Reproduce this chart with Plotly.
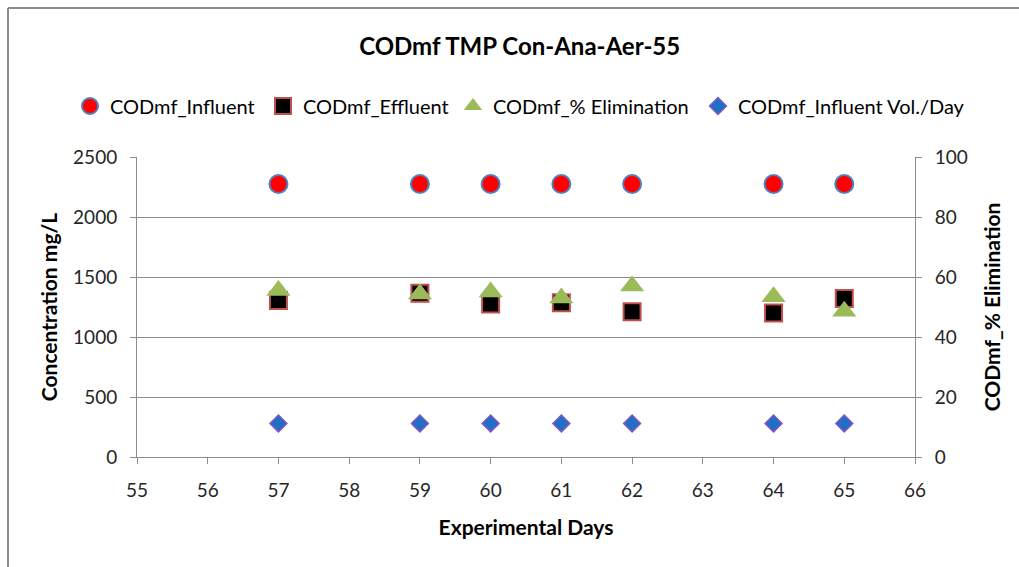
import plotly.graph_objects as go

# Experimental days sampled
days = [57, 59, 60, 61, 62, 64, 65]

# COD (mf) concentrations, mg/L
influent = [2275, 2275, 2275, 2275, 2275, 2275, 2275]
effluent = [1305, 1365, 1275, 1285, 1210, 1200, 1320]
# Removal efficiency, %
elimination = [55.5, 54.3, 55.0, 53.0, 57.0, 53.4, 48.6]
# Influent volume per day
influent_vol = [280, 280, 280, 280, 280, 280, 280]

FONT = "Lato"
GRID = "#8c8c8c"

# plot area in pixels (used to place the paper-anchored items)
L, R, T, B = 137, 104, 157, 110
PW, PH = 1019 - L - R, 567 - T - B


def px_x(x):
    return (x - L) / PW


def px_y(y):
    return (567 - B - y) / PH


fig = go.Figure()

fig.add_trace(go.Scatter(
    x=days, y=influent, mode="markers", name="CODmf_Influent",
    legend="legend",
    marker=dict(symbol="circle", size=18, color="#ff0000",
                line=dict(color="#4f81bd", width=2)),
))
fig.add_trace(go.Scatter(
    x=days, y=effluent, mode="markers", name="CODmf_Effluent",
    legend="legend2",
    marker=dict(symbol="square", size=17, color="#000000",
                line=dict(color="#c0504d", width=2)),
))
fig.add_trace(go.Scatter(
    x=days, y=elimination, mode="markers", name="CODmf_% Elimination",
    yaxis="y2", legend="legend3",
    marker=dict(symbol="triangle-up", size=21, color="#9bbb59",
                line=dict(color="#9bbb59", width=0)),
))
fig.add_trace(go.Scatter(
    x=days, y=influent_vol, mode="markers", name="CODmf_Influent Vol./Day",
    legend="legend4",
    marker=dict(symbol="diamond", size=13, color="#1f6fc5",
                line=dict(color="#7e57c2", width=1.5)),
))

legend_font = dict(family=FONT, size=20, color="#000000")
legend_y = px_y(106)


def legend_at(xpix):
    return dict(x=px_x(xpix), xanchor="left", y=legend_y, yanchor="middle",
                orientation="h", font=legend_font, itemwidth=30,
                bgcolor="rgba(0,0,0,0)")


tick_font = dict(family=FONT, size=19, color="#262626")
title_font = dict(family=FONT, size=21, color="#000000")

fig.update_layout(
    width=1019, height=567,
    margin=dict(l=L, r=R, t=T, b=B),
    paper_bgcolor="white", plot_bgcolor="white",
    font=dict(family=FONT, size=18, color="#262626"),
    title=dict(text="<b>CODmf TMP Con-Ana-Aer-55</b>",
               x=0.51, xanchor="center", y=1 - 47 / 567, yanchor="middle",
               font=dict(family=FONT, size=24, color="#000000")),
    showlegend=True,
    legend=legend_at(70),
    legend2=legend_at(263),
    legend3=legend_at(453),
    legend4=legend_at(698),
    xaxis=dict(
        range=[55, 66], tick0=55, dtick=1,
        showgrid=False, zeroline=False,
        showline=True, linecolor=GRID, linewidth=1,
        ticks="outside", ticklen=6, tickcolor=GRID,
        ticklabelstandoff=10,
        tickfont=tick_font,
        title=dict(text="<b>Experimental Days</b>", standoff=20,
                   font=title_font),
    ),
    yaxis=dict(
        range=[0, 2500], tick0=0, dtick=500,
        showgrid=True, gridcolor=GRID, gridwidth=1,
        zeroline=False,
        showline=True, linecolor=GRID, linewidth=1,
        ticks="outside", ticklen=6, tickcolor=GRID,
        ticklabelstandoff=9,
        tickfont=tick_font,
        title=dict(text="<b>Concentration mg/L</b>", standoff=9,
                   font=title_font),
    ),
    yaxis2=dict(
        range=[0, 100], tick0=0, dtick=20,
        overlaying="y", side="right",
        showgrid=False, zeroline=False,
        showline=True, linecolor=GRID, linewidth=1,
        ticks="outside", ticklen=6, tickcolor=GRID,
        ticklabelstandoff=9,
        tickfont=tick_font,
        title=dict(text="<b>CODmf_% Elimination</b>", standoff=18,
                   font=title_font),
    ),
    shapes=[
        # outer chart frame (left and top edges)
        dict(type="line", xref="paper", yref="paper",
             x0=px_x(8), x1=px_x(8), y0=px_y(8), y1=px_y(567),
             line=dict(color="#8c8c8c", width=2)),
        dict(type="line", xref="paper", yref="paper",
             x0=px_x(8), x1=px_x(1019), y0=px_y(8), y1=px_y(8),
             line=dict(color="#8c8c8c", width=2)),
    ],
)

fig.write_html("out.html")
